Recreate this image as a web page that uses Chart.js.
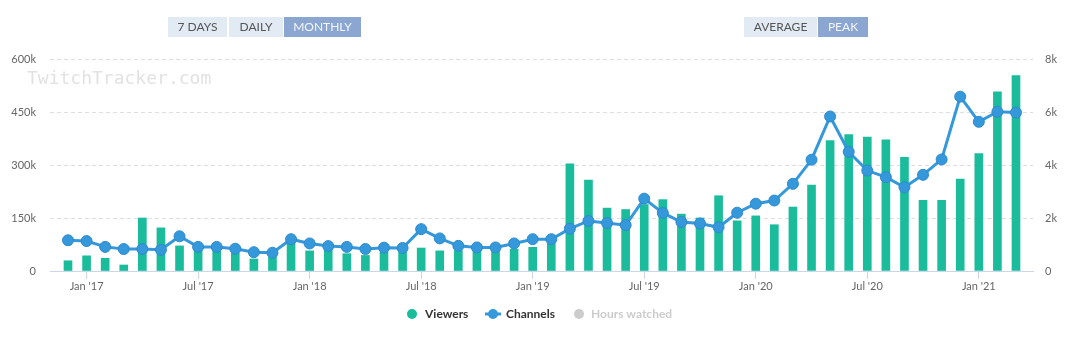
<!DOCTYPE html>
<html>
<head>
<meta charset="utf-8">
<script src="https://cdn.jsdelivr.net/npm/chart.js@4/dist/chart.umd.min.js"></script>
<style>
  html, body { margin: 0; padding: 0; background: #fff; }
  #wrap { position: relative; width: 1080px; height: 338px; overflow: hidden; }
  #wrap canvas { position: absolute; left: 0; top: 0; }
  .btn { position: absolute; top: 17px; height: 20px; line-height: 20px; text-align: center;
         font-family: Lato, "Open Sans", sans-serif; font-size: 12px; color: #555; background: #e2eaf3; }
  .btn.on { background: #8ba6d1; color: #f4f7fb; }
  #mark { position: absolute; left: 27px; top: 69px; font-family: "DejaVu Sans Mono", monospace;
          font-size: 18px; line-height: 18px; color: #e2e2e2; white-space: nowrap; }
</style>
</head>
<body>
<div id="wrap">
  <canvas id="c" width="1080" height="338"></canvas>
  <div id="mark">TwitchTracker.com</div>
  <div class="btn" style="left:168px;width:59px">7 DAYS</div>
  <div class="btn" style="left:229px;width:54px">DAILY</div>
  <div class="btn on" style="left:284px;width:77px">MONTHLY</div>
  <div class="btn" style="left:744px;width:73px">AVERAGE</div>
  <div class="btn on" style="left:818px;width:50px">PEAK</div>
</div>
<script>
// Months covered, Dec 2016 .. Mar 2021
const months = [
  "Dec '16",
  "Jan '17","Feb '17","Mar '17","Apr '17","May '17","Jun '17","Jul '17","Aug '17","Sep '17","Oct '17","Nov '17","Dec '17",
  "Jan '18","Feb '18","Mar '18","Apr '18","May '18","Jun '18","Jul '18","Aug '18","Sep '18","Oct '18","Nov '18","Dec '18",
  "Jan '19","Feb '19","Mar '19","Apr '19","May '19","Jun '19","Jul '19","Aug '19","Sep '19","Oct '19","Nov '19","Dec '19",
  "Jan '20","Feb '20","Mar '20","Apr '20","May '20","Jun '20","Jul '20","Aug '20","Sep '20","Oct '20","Nov '20","Dec '20",
  "Jan '21","Feb '21","Mar '21"
];

// Peak viewers per month
const viewers = [
  29000,
  43000, 36000, 17000, 150000, 122000, 71000, 62000, 60000, 50000, 34000, 42000, 80000,
  57000, 62000, 49000, 44000, 54000, 55000, 65000, 57000, 58000, 56000, 56000, 62000,
  67000, 78000, 303000, 257000, 178000, 174000, 188000, 202000, 161000, 150000, 213000, 142000,
  156000, 131000, 181000, 243000, 369000, 386000, 379000, 371000, 322000, 200000, 200000, 260000,
  332000, 507000, 553000
];

// Peak live channels per month
const channels = [
  1160,
  1130, 910, 830, 830, 800, 1310, 910, 910, 840, 710, 690, 1200,
  1040, 940, 910, 830, 880, 870, 1580, 1230, 950, 890, 890, 1040,
  1200, 1200, 1600, 1890, 1810, 1730, 2730, 2190, 1850, 1790, 1650, 2200,
  2540, 2660, 3290, 4200, 5830, 4500, 3790, 3540, 3160, 3630, 4210, 6580,
  5630, 6010, 5980
];

// Axis tick values
const viewerTicks = [0, 150000, 300000, 450000, 600000];
const channelTicks = [0, 2000, 4000, 6000, 8000];
const xTickMonths = ["Jan '17","Jul '17","Jan '18","Jul '18","Jan '19","Jul '19","Jan '20","Jul '20","Jan '21"];

const TEAL = '#1abc9c';
const BLUE = '#3498db';
const AXIS = '#ccd6eb';
const LABEL = '#666666';
const FONT = 'Lato, "Open Sans", sans-serif';

const kFormat = v => v === 0 ? '0' : (v / 1000) + 'k';

// Legend drawn under the axis labels
const legendPlugin = {
  id: 'bottomLegend',
  afterDraw(chart) {
    const ctx = chart.ctx;
    const y = 314;
    ctx.save();
    ctx.font = 'bold 12px ' + FONT;
    ctx.textBaseline = 'middle';
    ctx.textAlign = 'left';
    // Viewers
    ctx.fillStyle = TEAL;
    ctx.beginPath(); ctx.arc(412, y, 5, 0, Math.PI * 2); ctx.fill();
    ctx.fillStyle = '#333';
    ctx.fillText('Viewers', 425, y);
    // Channels
    ctx.strokeStyle = BLUE; ctx.lineWidth = 3;
    ctx.beginPath(); ctx.moveTo(485, y); ctx.lineTo(501, y); ctx.stroke();
    ctx.fillStyle = BLUE;
    ctx.beginPath(); ctx.arc(493, y, 5, 0, Math.PI * 2); ctx.fill();
    ctx.fillStyle = '#333';
    ctx.fillText('Channels', 506, y);
    // Hours watched (switched off)
    ctx.fillStyle = '#cccccc';
    ctx.beginPath(); ctx.arc(579, y, 5, 0, Math.PI * 2); ctx.fill();
    ctx.fillText('Hours watched', 591, y);
    ctx.restore();
  }
};

const idx = months.map((_, i) => i);

new Chart(document.getElementById('c'), {
  data: {
    datasets: [
      {
        type: 'line',
        label: 'Channels',
        yAxisID: 'y1',
        data: idx.map(i => ({ x: i, y: channels[i] })),
        borderColor: BLUE,
        backgroundColor: BLUE,
        borderWidth: 3,
        pointRadius: 5.5,
        pointBorderWidth: 1,
        pointBorderColor: '#2f89cc',
        pointBackgroundColor: BLUE,
        tension: 0,
        order: 0
      },
      {
        type: 'bar',
        label: 'Viewers',
        yAxisID: 'y',
        data: idx.map(i => ({ x: i, y: viewers[i] })),
        backgroundColor: TEAL,
        barThickness: 8,
        order: 1
      }
    ]
  },
  options: {
    responsive: false,
    animation: false,
    layout: { padding: { top: 59, left: 0, right: 0, bottom: 0 } },
    plugins: { legend: { display: false }, tooltip: { enabled: false } },
    scales: {
      x: {
        type: 'linear',
        position: 'bottom',
        offset: false,
        min: -0.968,
        max: 51.915,
        afterBuildTicks: s => { s.ticks = xTickMonths.map(m => ({ value: months.indexOf(m) })); },
        afterFit: s => { s.height = 67; },
        ticks: {
          autoSkip: false, maxRotation: 0, padding: 1,
          color: LABEL, font: { family: FONT, size: 11 },
          callback: v => months[v]
        },
        grid: { offset: false, drawOnChartArea: false, drawTicks: true, tickLength: 8, color: AXIS, lineWidth: 1 },
        border: { display: true, color: AXIS, width: 1 }
      },
      y: {
        position: 'left',
        min: 0, max: 600000,
        afterBuildTicks: s => { s.ticks = viewerTicks.map(v => ({ value: v })); },
        afterFit: s => { s.width = 50; },
        ticks: { padding: 14, color: LABEL, font: { family: FONT, size: 11 }, callback: kFormat },
        grid: { color: '#dedede', lineWidth: 1, drawTicks: false },
        border: { display: false, dash: [4, 3] }
      },
      y1: {
        position: 'right',
        min: 0, max: 8000,
        afterBuildTicks: s => { s.ticks = channelTicks.map(v => ({ value: v })); },
        afterFit: s => { s.width = 47; },
        ticks: { padding: 12, color: LABEL, font: { family: FONT, size: 11 }, callback: kFormat },
        grid: { drawOnChartArea: false, drawTicks: false },
        border: { display: false }
      }
    }
  },
  plugins: [legendPlugin]
});
</script>
</body>
</html>
